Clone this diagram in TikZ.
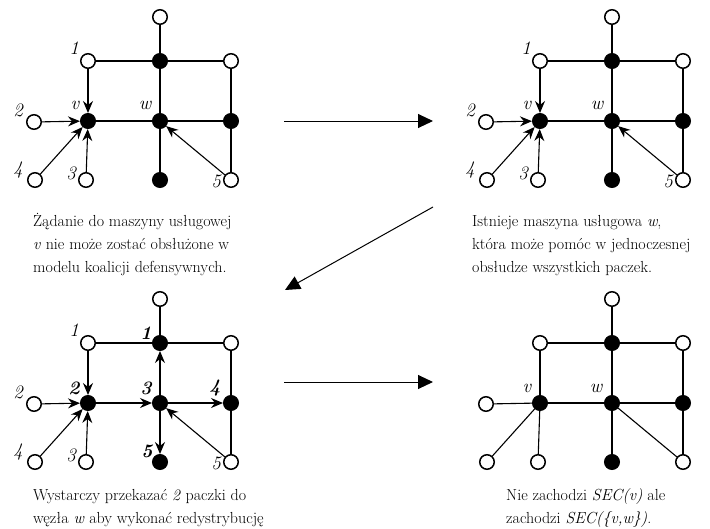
\documentclass[tikz,border=0pt]{standalone}
\usetikzlibrary{arrows.meta}
\tikzset{
 wnode/.style={circle,draw,line width=1.5pt,fill=white,minimum size=14.5pt,inner sep=0pt},
 bnode/.style={circle,draw,line width=1.5pt,fill=black,minimum size=14.5pt,inner sep=0pt},
 gline/.style={line width=1.1pt},
 darr/.style={gline,-{Stealth[length=12pt,width=10pt,inset=4pt]}},
 bigarr/.style={line width=1pt,-{Triangle[length=15pt,width=14pt]}},
 lab/.style={font=\fontsize{19}{20}\selectfont\itshape,inner sep=0pt},
 blab/.style={font=\fontsize{19}{20}\selectfont\bfseries\itshape,inner sep=0pt},
 captxt/.style={font=\fontsize{16}{23}\selectfont,anchor=base west,inner sep=0pt},
}
\newcommand\mkgraph[1]{%
 \node[wnode] (#1t) at (160,17) {};
 \node[wnode] (#1n1) at (88,61) {};
 \node[bnode] (#1k) at (160,61) {};
 \node[wnode] (#1r1) at (231,61) {};
 \node[wnode] (#1n2) at (34,122) {};
 \node[bnode] (#1v) at (88,121) {};
 \node[bnode] (#1w) at (160,121) {};
 \node[bnode] (#1r2) at (231,121) {};
 \node[wnode] (#1n4) at (35,180) {};
 \node[wnode] (#1n3) at (86,180) {};
 \node[bnode] (#1b) at (160,180) {};
 \node[wnode] (#1n5) at (231,180) {};
 \draw[gline] (#1t) -- (#1k);
 \draw[gline] (#1n1) -- (#1k);
 \draw[gline] (#1k) -- (#1r1);
 \draw[gline] (#1r1) -- (#1r2);
 \draw[gline] (#1r2) -- (#1n5);
}
\newcommand\numlabels[1]{%
 \node[lab] (#1l1) at (74,48) {1};
 \node[lab] (#1l2) at (18,110) {2};
 \node[lab] (#1l4) at (18,170) {4};
 \node[lab] (#1l3) at (71,173) {3};
 \node[lab] (#1l5) at (216,181) {5};
}
\begin{document}
\begin{tikzpicture}[x=1pt,y=-1pt]
\useasboundingbox (0,0) rectangle (710,528);
% ---------- top left
\begin{scope}
 \mkgraph{a}
 \numlabels{a}
 \node[lab] (alv) at (75,105) {v};
 \node[lab] (alw) at (145,105) {w};
 \draw[gline] (ak) -- (aw);
 \draw[gline] (av) -- (aw);
 \draw[gline] (aw) -- (ar2);
 \draw[gline] (aw) -- (ab);
 \draw[darr] (an1) -- (av);
 \draw[darr] (an2) -- (av);
 \draw[darr] (an4) -- (av);
 \draw[darr] (an3) -- (av);
 \draw[darr] (an5) -- (aw);
\end{scope}
% ---------- top right
\begin{scope}[xshift=452pt]
 \mkgraph{b}
 \numlabels{b}
 \node[lab] (blv) at (75,105) {v};
 \node[lab] (blw) at (145,105) {w};
 \draw[gline] (bk) -- (bw);
 \draw[gline] (bv) -- (bw);
 \draw[gline] (bw) -- (br2);
 \draw[gline] (bw) -- (bb);
 \draw[darr] (bn1) -- (bv);
 \draw[darr] (bn2) -- (bv);
 \draw[darr] (bn4) -- (bv);
 \draw[darr] (bn3) -- (bv);
 \draw[darr] (bn5) -- (bw);
\end{scope}
% ---------- bottom left
\begin{scope}[yshift=-282pt]
 \mkgraph{c}
 \numlabels{c}
 \node[blab] (cb1) at (146,51) {1};
 \node[blab] (cb2) at (74,106) {2};
 \node[blab] (cb3) at (146,106) {3};
 \node[blab] (cb4) at (215,106) {4};
 \node[blab] (cb5) at (147,169) {5};
 \draw[darr] (cw) -- (ck);
 \draw[darr] (cv) -- (cw);
 \draw[darr] (cw) -- (cr2);
 \draw[darr] (cw) -- (cb);
 \draw[darr] (cn1) -- (cv);
 \draw[darr] (cn2) -- (cv);
 \draw[darr] (cn4) -- (cv);
 \draw[darr] (cn3) -- (cv);
 \draw[darr] (cn5) -- (cw);
\end{scope}
% ---------- bottom right
\begin{scope}[xshift=452pt,yshift=-282pt]
 \mkgraph{d}
 \node[lab] (dlv) at (75,106) {v};
 \node[lab] (dlw) at (144,106) {w};
 \draw[gline] (dk) -- (dw);
 \draw[gline] (dv) -- (dw);
 \draw[gline] (dw) -- (dr2);
 \draw[gline] (dw) -- (db);
 \draw[gline] (dn1) -- (dv);
 \draw[gline] (dn2) -- (dv);
 \draw[gline] (dn4) -- (dv);
 \draw[gline] (dn3) -- (dv);
 \draw[gline] (dn5) -- (dw);
\end{scope}
% ---------- big arrows
\coordinate (p1) at (284,121);
\coordinate (p2) at (433,121);
\coordinate (p3) at (433,207);
\coordinate (p4) at (285,290);
\coordinate (p5) at (284,382);
\coordinate (p6) at (433,382);
\draw[bigarr] (p1) -- (p2);
\draw[bigarr] (p3) -- (p4);
\draw[bigarr] (p5) -- (p6);
% ---------- captions
\node[captxt] (c11) at (33,226) {Żądanie do maszyny usługowej};
\node[captxt] (c12) at (33,249) {\textit{v} nie może zostać obsłużone w};
\node[captxt] (c13) at (33,272) {modelu koalicji defensywnych.};
\node[captxt] (c21) at (472,226) {Istnieje maszyna usługowa \textit{w},};
\node[captxt] (c22) at (472,249) {która może pomóc w jednoczesnej};
\node[captxt] (c23) at (472,272) {obsłudze wszystkich paczek.};
\node[captxt] (c31) at (33,500) {Wystarczy przekazać \textit{2} paczki do};
\node[captxt] (c32) at (33,523) {węzła \textit{w} aby wykonać redystrybucję};
\node[captxt] (c41) at (506,500) {Nie zachodzi \textit{SEC(v)} ale};
\node[captxt] (c42) at (506,523) {zachodzi \textit{SEC(\{v,w\})}.};
\end{tikzpicture}
\end{document}
